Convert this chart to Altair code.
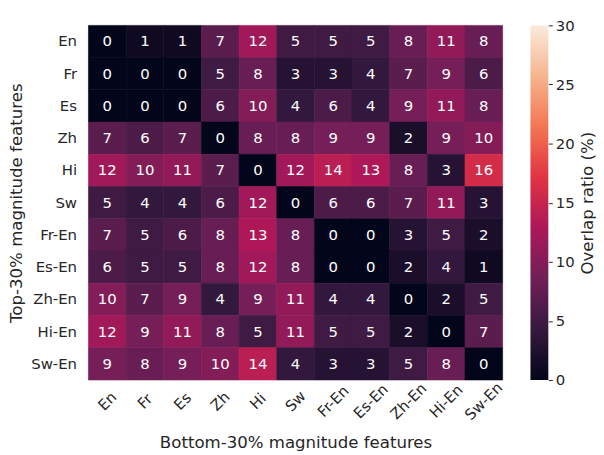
import altair as alt
import pandas as pd

labels = ["En", "Fr", "Es", "Zh", "Hi", "Sw", "Fr-En", "Es-En", "Zh-En", "Hi-En", "Sw-En"]

row_en = [0, 1, 1, 7, 12, 5, 5, 5, 8, 11, 8]
row_fr = [0, 0, 0, 5, 8, 3, 3, 4, 7, 9, 6]
row_es = [0, 0, 0, 6, 10, 4, 6, 4, 9, 11, 8]
row_zh = [7, 6, 7, 0, 8, 8, 9, 9, 2, 9, 10]
row_hi = [12, 10, 11, 7, 0, 12, 14, 13, 8, 3, 16]
row_sw = [5, 4, 4, 6, 12, 0, 6, 6, 7, 11, 3]
row_fr_en = [7, 5, 6, 8, 13, 8, 0, 0, 3, 5, 2]
row_es_en = [6, 5, 5, 8, 12, 8, 0, 0, 2, 4, 1]
row_zh_en = [10, 7, 9, 4, 9, 11, 4, 4, 0, 2, 5]
row_hi_en = [12, 9, 11, 8, 5, 11, 5, 5, 2, 0, 7]
row_sw_en = [9, 8, 9, 10, 14, 4, 3, 3, 5, 8, 0]

rows = [row_en, row_fr, row_es, row_zh, row_hi, row_sw,
        row_fr_en, row_es_en, row_zh_en, row_hi_en, row_sw_en]

cbar_ticks = [0, 5, 10, 15, 20, 25, 30]
vmin, vmax = 0, 30

# rocket colormap samples
rocket_offsets = [0, 1/7, 2/7, 3/7, 4/7, 5/7, 6/7, 1]
rocket_colors = ["#03051a", "#35193e", "#701f57", "#ad1759",
                 "#e13342", "#f37651", "#f6b48f", "#faebdd"]

records = []
for r, vals in zip(labels, rows):
    for c, v in zip(labels, vals):
        records.append({"row": r, "col": c, "value": v})
df = pd.DataFrame(records)

FONT = "DejaVu Sans"
TXT = "#262626"
TICK_FS = 15
TITLE_FS = 16.7

color_scale = alt.Scale(domain=[vmin + (vmax - vmin) * o for o in rocket_offsets],
                        range=rocket_colors, interpolate="rgb")

base = alt.Chart(df).encode(
    x=alt.X("col:N", sort=labels, scale=alt.Scale(paddingInner=0, paddingOuter=0),
            axis=alt.Axis(title="Bottom-30% magnitude features", labelAngle=-45,
                          labelAlign="center", labelBaseline="middle", labelPadding=21,
                          ticks=False, domain=False, titlePadding=12)),
    y=alt.Y("row:N", sort=labels, scale=alt.Scale(paddingInner=0, paddingOuter=0),
            axis=alt.Axis(title="Top-30% magnitude features", ticks=False, domain=False,
                          labelPadding=12, titlePadding=5)),
)

heat = base.mark_rect(strokeWidth=0.6).encode(
    color=alt.Color("value:Q", scale=color_scale, legend=None),
    stroke=alt.Stroke("value:Q", scale=color_scale, legend=None),
)
annot = base.mark_text(font=FONT, fontSize=TICK_FS, color="white").encode(
    text=alt.Text("value:Q")
)
heatmap = (heat + annot).properties(width=417, height=357)

grad = alt.LinearGradient(
    gradient="linear",
    stops=[alt.GradientStop(offset=o, color=c) for o, c in zip(rocket_offsets, rocket_colors)],
    x1=0, x2=0, y1=1, y2=0,
)
cbar = alt.Chart(pd.DataFrame({"lo": [vmin], "hi": [vmax]})).mark_rect(color=grad).encode(
    x=alt.value(0), x2=alt.value(18),
    y=alt.Y("lo:Q", scale=alt.Scale(domain=[vmin, vmax], nice=False),
            axis=alt.Axis(orient="right", values=cbar_ticks, title="Overlap ratio (%)",
                          titleAngle=270, titleBaseline="top",
                          domain=False, grid=False, tickSize=4, tickColor=TXT,
                          labelPadding=3, titlePadding=5)),
    y2="hi:Q",
).properties(width=18, height=357)

chart = alt.hconcat(heatmap, cbar, spacing=25).properties(
    padding={"top": 9, "left": 0, "right": 0, "bottom": 0},
    background="white",
).configure_view(stroke=None).configure_axis(
    labelFont=FONT, titleFont=FONT, labelFontSize=TICK_FS, titleFontSize=TITLE_FS,
    labelColor=TXT, titleColor=TXT, titleFontWeight="normal", grid=False
)

chart.save("out.html", embed_options={"renderer": "svg", "actions": False})
